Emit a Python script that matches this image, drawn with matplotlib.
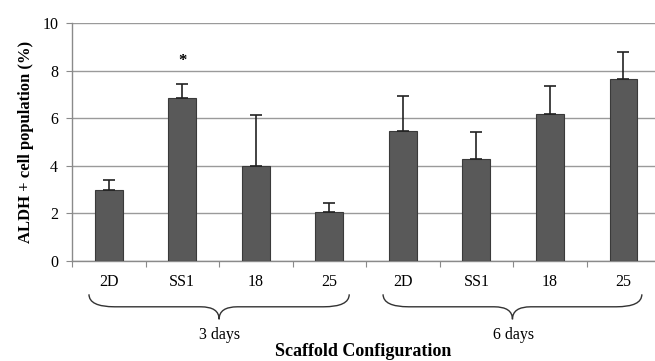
import numpy as np
import matplotlib
matplotlib.use('Agg')
import matplotlib.pyplot as plt
from matplotlib.path import Path
from matplotlib.patches import PathPatch

categories = ['2D', 'SS1', '18', '25', '2D', 'SS1', '18', '25']
groups = ['3 days', '6 days']
values = [3.0, 6.85, 4.0, 2.05, 5.45, 4.3, 6.2, 7.65]
err_up = [0.42, 0.6, 2.15, 0.38, 1.5, 1.12, 1.17, 1.13]

plt.rcParams['font.family'] = ['Liberation Serif', 'DejaVu Serif']

fig = plt.figure(figsize=(6.55, 3.61), dpi=100)
ax = fig.add_axes([0.11, 0.277, 0.898, 0.659])

x = np.arange(len(categories))
ax.bar(x, values, width=0.38, color='#595959', edgecolor='#3a3a3a', linewidth=0.8, zorder=3)
ax.errorbar(x, values, yerr=[np.zeros(len(values)), err_up], fmt='none',
            ecolor='#222222', elinewidth=1.2, capsize=4, capthick=1.2, zorder=4)
ax.text(1, 8.4, '*', ha='center', va='center', fontsize=12, fontweight='bold')

ax.set_xlim(-0.5, len(categories) - 0.5)
ax.set_ylim(0, 10)
ax.set_yticks([0, 2, 4, 6, 8, 10])
ax.yaxis.grid(True, color='#9a9a9a', linewidth=1.0, zorder=0)
ax.set_axisbelow(True)
for s in ['top', 'right']:
    ax.spines[s].set_visible(False)
for s in ['left', 'bottom']:
    ax.spines[s].set_color('#8a8a8a')
    ax.spines[s].set_linewidth(1.0)

ax.set_xticks(np.arange(len(categories) + 1) - 0.5)
ax.set_xticklabels([])
ax.tick_params(axis='x', length=4, color='#8a8a8a')
ax.tick_params(axis='y', length=4, color='#8a8a8a', labelsize=11.5, pad=6)
for xi, lab in zip(x, categories):
    ax.text(xi, -0.09, lab, transform=ax.get_xaxis_transform(),
            ha='center', va='center', fontsize=11.5)

ax.set_ylabel('ALDH + cell population (%)', fontsize=12, fontweight='bold', labelpad=6)

# braces under each group
trans = ax.get_xaxis_transform()
def brace(x0, x1, ytop, ybot):
    xm = (x0 + x1) / 2
    ymid = (ytop + ybot) / 2
    verts = [(x0, ytop), (x0, ymid), (x0 + 0.35, ymid),
             (xm - 0.25, ymid), (xm, ymid), (xm, ybot),
             (xm, ymid), (xm + 0.25, ymid), (x1 - 0.35, ymid),
             (x1, ymid), (x1, ytop)]
    codes = [Path.MOVETO, Path.CURVE3, Path.CURVE3,
             Path.LINETO, Path.CURVE3, Path.CURVE3,
             Path.CURVE3, Path.CURVE3, Path.LINETO,
             Path.CURVE3, Path.CURVE3]
    p = PathPatch(Path(verts, codes), transform=trans, fill=False,
                  edgecolor='#333333', linewidth=1.0, clip_on=False)
    ax.add_patch(p)

brace(-0.27, 3.27, -0.14, -0.245)
brace(3.73, 7.25, -0.14, -0.245)
ax.text(1.5, -0.31, groups[0], transform=trans, ha='center', va='center', fontsize=11.5)
ax.text(5.5, -0.31, groups[1], transform=trans, ha='center', va='center', fontsize=11.5)
fig.text(0.555, 0.025, 'Scaffold Configuration', ha='center', va='center',
         fontsize=13, fontweight='bold')

fig.savefig('out.png', dpi=100)
